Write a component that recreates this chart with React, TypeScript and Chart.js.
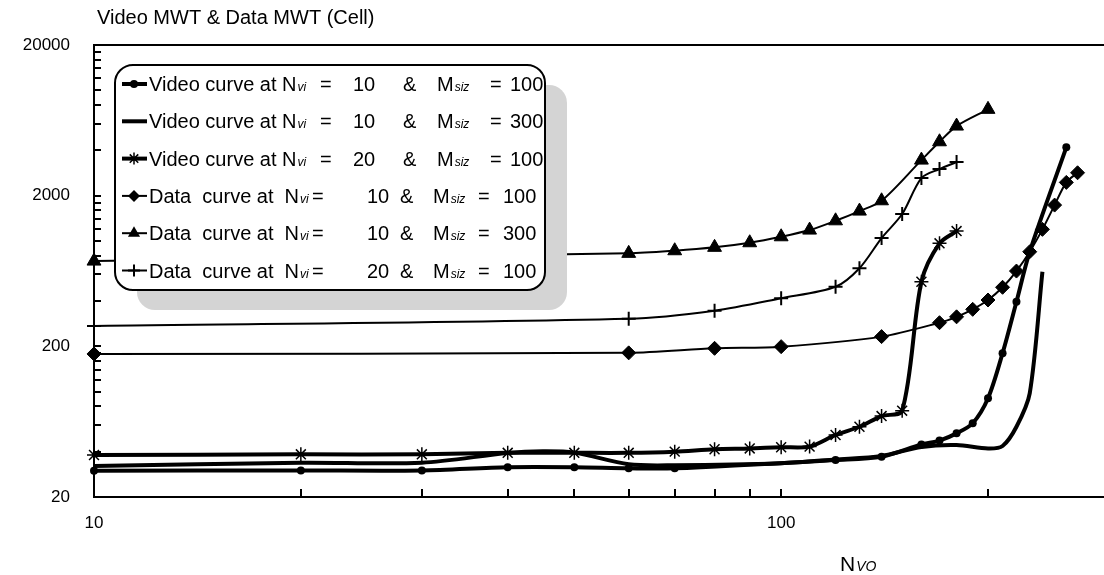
import React, { useEffect, useRef } from "react";
import { Chart, registerables } from "chart.js";

Chart.register(...registerables);

// ---------- text ----------
const chartTitle = "Video MWT & Data MWT (Cell)";
const xAxisTitleMain = "N";
const xAxisTitleSub = "VO";
const xTickLabels = [10, 100];
const yTickLabels = [20, 200, 2000, 20000];

// legend text pieces
const seriesKinds = ["Video", "Video", "Video", "Data", "Data", "Data"];
const seriesNvi = [10, 10, 20, 10, 10, 20];
const seriesMsiz = [100, 300, 100, 100, 300, 100];

// ---------- data ----------
// Video curve at Nvi = 10 & Msiz = 100
const video10m100X = [10, 20, 30, 40, 50, 60, 70, 120, 140, 160, 170, 180, 190, 200, 210, 220, 230, 260];
const video10m100Y = [29.9, 30, 30, 31.5, 31.5, 31, 31, 35.2, 37, 44.6, 47.4, 52.9, 61.7, 90.4, 180, 395, 849, 4184];

// Video curve at Nvi = 10 & Msiz = 300
const video10m300X = [10, 20, 30, 40, 45, 50, 60, 70, 100, 120, 140, 160, 180, 200, 210, 220, 230, 240];
const video10m300Y = [32.1, 33.8, 33.8, 39.2, 40.2, 39.4, 33, 32.5, 33.5, 35.5, 37.5, 43, 44.3, 42, 43.6, 58.5, 97.5, 625];

// Video curve at Nvi = 20 & Msiz = 100
const video20m100X = [10, 20, 30, 40, 50, 60, 70, 80, 90, 100, 110, 120, 130, 140, 150, 160, 170, 180];
const video20m100Y = [38, 38.4, 38.4, 39.3, 39.3, 39.3, 40, 41.5, 42, 42.8, 43.2, 51.6, 58.5, 68.9, 74.8, 537, 965, 1164];

// Data curve at Nvi = 10 & Msiz = 100
const data10m100X = [10, 60, 80, 100, 140, 170, 180, 190, 200, 210, 220, 230, 240, 250, 260, 270];
const data10m100Y = [178, 181, 194, 199, 232, 287, 314, 352, 406, 493, 632, 849, 1195, 1732, 2450, 2838];

// Data curve at Nvi = 10 & Msiz = 300
const data10m300X = [10, 60, 70, 80, 90, 100, 110, 120, 130, 140, 160, 170, 180, 200];
const data10m300Y = [736, 828, 862, 908, 974, 1067, 1182, 1362, 1580, 1850, 3444, 4558, 5794, 7480];

// Data curve at Nvi = 20 & Msiz = 100
const data20m100X = [10, 60, 80, 100, 120, 130, 140, 150, 160, 170, 180];
const data20m100Y = [273, 305, 345, 417, 497, 660, 1046, 1510, 2618, 3003, 3342];

const FONT = "'Liberation Sans', Arial, Helvetica, sans-serif";

const pts = (xs: number[], ys: number[]) => xs.map((x, i) => ({ x, y: ys[i] }));

function drawMarker(ctx: CanvasRenderingContext2D, style: string, x: number, y: number, r: number) {
  ctx.save();
  ctx.fillStyle = "#000";
  ctx.strokeStyle = "#000";
  ctx.beginPath();
  if (style === "circle") {
    ctx.arc(x, y, r, 0, Math.PI * 2);
    ctx.fill();
  } else if (style === "rectRot") {
    ctx.moveTo(x, y - r);
    ctx.lineTo(x + r, y);
    ctx.lineTo(x, y + r);
    ctx.lineTo(x - r, y);
    ctx.closePath();
    ctx.fill();
  } else if (style === "triangle") {
    ctx.moveTo(x, y - r);
    ctx.lineTo(x + r * 0.866, y + r / 2);
    ctx.lineTo(x - r * 0.866, y + r / 2);
    ctx.closePath();
    ctx.fill();
  } else if (style === "star") {
    ctx.lineWidth = 1.5;
    for (let k = 0; k < 4; k++) {
      const a = (k * Math.PI) / 4;
      ctx.moveTo(x - Math.cos(a) * r, y - Math.sin(a) * r);
      ctx.lineTo(x + Math.cos(a) * r, y + Math.sin(a) * r);
    }
    ctx.stroke();
  } else if (style === "cross") {
    ctx.lineWidth = 2;
    ctx.moveTo(x, y - r);
    ctx.lineTo(x, y + r);
    ctx.moveTo(x - r, y);
    ctx.lineTo(x + r, y);
    ctx.stroke();
  }
  ctx.restore();
}

function roundRect(ctx: CanvasRenderingContext2D, x: number, y: number, w: number, h: number, r: number) {
  ctx.beginPath();
  ctx.moveTo(x + r, y);
  ctx.lineTo(x + w - r, y);
  ctx.arcTo(x + w, y, x + w, y + r, r);
  ctx.lineTo(x + w, y + h - r);
  ctx.arcTo(x + w, y + h, x + w - r, y + h, r);
  ctx.lineTo(x + r, y + h);
  ctx.arcTo(x, y + h, x, y + h - r, r);
  ctx.lineTo(x, y + r);
  ctx.arcTo(x, y, x + r, y, r);
  ctx.closePath();
}

const legendStyles = ["circle", "none", "star", "rectRot", "triangle", "cross"];
const legendLineWidths = [4, 4, 4, 2, 2, 2];
const legendMarkerSizes = [4, 0, 6, 6, 7, 6];

const decorPlugin = {
  id: "decor",
  afterDraw(chart: any) {
    const ctx: CanvasRenderingContext2D = chart.ctx;
    const xs = chart.scales.x;
    const ys = chart.scales.y;
    const a = chart.chartArea;
    ctx.save();
    ctx.strokeStyle = "#000";
    ctx.lineWidth = 2;
    // axes and top border
    ctx.beginPath();
    ctx.moveTo(a.left, a.top);
    ctx.lineTo(a.right, a.top);
    ctx.moveTo(a.left, a.top - 1);
    ctx.lineTo(a.left, a.bottom + 1);
    ctx.moveTo(a.left - 1, a.bottom);
    ctx.lineTo(a.right, a.bottom);
    ctx.stroke();
    // inward tick marks
    ctx.beginPath();
    for (let d = 0; d < yTickLabels.length - 1; d++) {
      for (let k = 1; k <= 9; k++) {
        const py = Math.round(ys.getPixelForValue(yTickLabels[d] * k));
        ctx.moveTo(a.left, py);
        ctx.lineTo(a.left + 7, py);
      }
    }
    for (let d = 0; d < xTickLabels.length; d++) {
      for (let k = 1; k <= 9; k++) {
        const v = xTickLabels[d] * k;
        if (v > xs.max) continue;
        const px = Math.round(xs.getPixelForValue(v));
        ctx.moveTo(px, a.bottom);
        ctx.lineTo(px, a.bottom - 8);
      }
    }
    ctx.stroke();

    // title
    ctx.fillStyle = "#000";
    ctx.textAlign = "left";
    ctx.textBaseline = "alphabetic";
    ctx.font = `20px ${FONT}`;
    ctx.fillText(chartTitle, 97, 24);

    // x axis title
    ctx.font = `21px ${FONT}`;
    ctx.fillText(xAxisTitleMain, 840, 571);
    const nW = ctx.measureText(xAxisTitleMain).width;
    ctx.font = `italic 14px ${FONT}`;
    ctx.fillText(xAxisTitleSub, 840 + nW + 1, 571);

    // legend
    const bx = 115, by = 65, bw = 430, bh = 225, br = 18;
    ctx.fillStyle = "#d4d4d4";
    roundRect(ctx, bx + 22, by + 20, bw, bh, br);
    ctx.fill();
    ctx.fillStyle = "#fff";
    roundRect(ctx, bx, by, bw, bh, br);
    ctx.fill();
    ctx.lineWidth = 2;
    ctx.strokeStyle = "#000";
    ctx.stroke();

    for (let i = 0; i < seriesKinds.length; i++) {
      const ry = 84 + i * 37.3;
      // sample line
      ctx.beginPath();
      ctx.lineWidth = legendLineWidths[i];
      ctx.moveTo(122, ry);
      ctx.lineTo(147, ry);
      ctx.stroke();
      if (legendStyles[i] !== "none") drawMarker(ctx, legendStyles[i], 134, ry, legendMarkerSizes[i]);
      ctx.fillStyle = "#000";
      const isVideo = seriesKinds[i] === "Video";
      const base = ry + 7;
      ctx.font = `20px ${FONT}`;
      const prefix = isVideo ? `${seriesKinds[i]} curve at N` : `${seriesKinds[i]}  curve at  N`;
      ctx.fillText(prefix, 149, base);
      const cx = 149 + ctx.measureText(prefix).width;
      ctx.font = `italic 12px ${FONT}`;
      ctx.fillText("vi", cx + 1, base);
      ctx.font = `20px ${FONT}`;
      if (isVideo) {
        ctx.fillText("=", 320, base);
        ctx.fillText(String(seriesNvi[i]), 353, base);
        ctx.fillText("&", 403, base);
        ctx.fillText("M", 437, base);
        const mW = ctx.measureText("M").width;
        ctx.font = `italic 12px ${FONT}`;
        ctx.fillText("siz", 437 + mW + 1, base);
        ctx.font = `20px ${FONT}`;
        ctx.fillText("=", 490, base);
        ctx.fillText(String(seriesMsiz[i]), 510, base);
      } else {
        ctx.fillText("=", cx + 13, base);
        ctx.fillText(String(seriesNvi[i]), 367, base);
        ctx.fillText("&", 400, base);
        ctx.fillText("M", 433, base);
        const mW = ctx.measureText("M").width;
        ctx.font = `italic 12px ${FONT}`;
        ctx.fillText("siz", 433 + mW + 1, base);
        ctx.font = `20px ${FONT}`;
        ctx.fillText("=", 478, base);
        ctx.fillText(String(seriesMsiz[i]), 503, base);
      }
    }
    ctx.restore();
  },
};

export default function App() {
  const canvasRef = useRef<HTMLCanvasElement | null>(null);

  useEffect(() => {
    if (!canvasRef.current) return;
    const labelOf = (i: number) =>
      `${seriesKinds[i]} curve at Nvi = ${seriesNvi[i]} & Msiz = ${seriesMsiz[i]}`;
    const common = { borderColor: "#000", fill: false, tension: 0.3, clip: false as any };
    const chart = new Chart(canvasRef.current, {
      type: "line",
      data: {
        datasets: [
          {
            ...common,
            label: labelOf(0),
            data: pts(video10m100X, video10m100Y),
            borderWidth: 4,
            pointStyle: "circle",
            pointRadius: 4,
            pointBackgroundColor: "#000",
            pointBorderColor: "#000",
            pointBorderWidth: 0,
          },
          {
            ...common,
            label: labelOf(1),
            data: pts(video10m300X, video10m300Y),
            borderWidth: 4,
            pointRadius: 0,
          },
          {
            ...common,
            label: labelOf(2),
            data: pts(video20m100X, video20m100Y),
            borderWidth: 4,
            pointStyle: "star",
            pointRadius: 7,
            pointBorderColor: "#000",
            pointBackgroundColor: "#000",
            pointBorderWidth: 1.5,
          },
          {
            ...common,
            label: labelOf(3),
            data: pts(data10m100X, data10m100Y),
            borderWidth: 2,
            pointStyle: "rectRot",
            pointRadius: 7,
            pointBackgroundColor: "#000",
            pointBorderColor: "#000",
            pointBorderWidth: 1,
          },
          {
            ...common,
            label: labelOf(4),
            data: pts(data10m300X, data10m300Y),
            borderWidth: 2,
            pointStyle: "triangle",
            pointRadius: 8,
            pointBackgroundColor: "#000",
            pointBorderColor: "#000",
            pointBorderWidth: 1,
          },
          {
            ...common,
            label: labelOf(5),
            data: pts(data20m100X, data20m100Y),
            borderWidth: 2,
            pointStyle: "cross",
            pointRadius: 7,
            pointBorderColor: "#000",
            pointBorderWidth: 2,
          },
        ],
      },
      options: {
        animation: false,
        responsive: true,
        maintainAspectRatio: false,
        devicePixelRatio: 1,
        events: [],
        layout: { autoPadding: false, padding: { top: 45, left: 0, right: 0, bottom: 0 } },
        plugins: {
          legend: { display: false },
          title: { display: false },
          tooltip: { enabled: false },
        },
        scales: {
          x: {
            type: "logarithmic",
            min: 10,
            max: 295,
            afterBuildTicks: (s: any) => {
              s.ticks = xTickLabels.map((v) => ({ value: v }));
            },
            afterFit: (s: any) => {
              s.height = 78;
            },
            grid: { display: false, drawTicks: false },
            border: { display: false },
            ticks: {
              color: "#000",
              font: { family: FONT, size: 17 },
              padding: 16,
              maxRotation: 0,
              autoSkip: false,
              callback: (v: any) => String(v),
            },
          },
          y: {
            type: "logarithmic",
            min: 20,
            max: 20000,
            afterBuildTicks: (s: any) => {
              s.ticks = yTickLabels.map((v) => ({ value: v }));
            },
            afterFit: (s: any) => {
              s.width = 94;
            },
            grid: { display: false, drawTicks: false },
            border: { display: false },
            ticks: {
              color: "#000",
              font: { family: FONT, size: 17 },
              padding: 24,
              autoSkip: false,
              callback: (v: any) => String(v),
            },
          },
        },
      },
      plugins: [decorPlugin],
    });
    return () => chart.destroy();
  }, []);

  return (
    <div style={{ position: "fixed", left: 0, top: 0, width: 1104, height: 575, background: "#fff" }}>
      <canvas ref={canvasRef} />
    </div>
  );
}
